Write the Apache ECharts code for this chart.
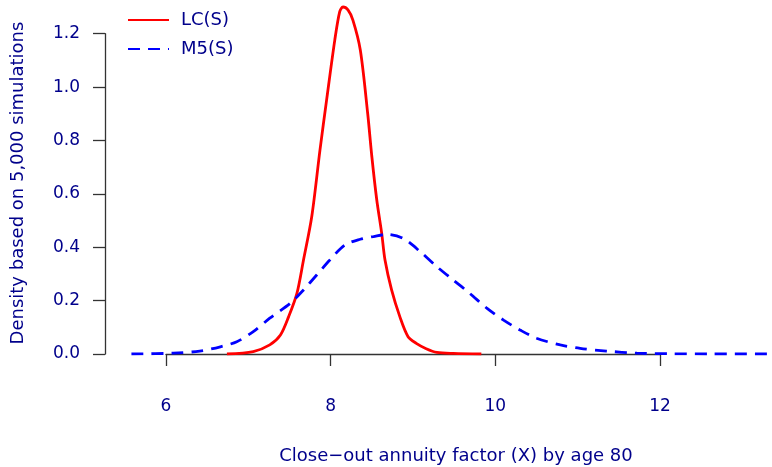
<!DOCTYPE html>
<html>
<head>
<meta charset="utf-8">
<script src="https://cdn.jsdelivr.net/npm/echarts@6/dist/echarts.min.js"></script>
<style>
  html, body { margin: 0; padding: 0; background: #fff; }
  #chart { width: 772px; height: 467px; }
</style>
</head>
<body>
<div id="chart"></div>
<script>
// density curves
const lcX = [6.74, 7.06, 7.26, 7.39, 7.49, 7.59, 7.67, 7.77, 7.87, 7.95, 8.05, 8.11, 8.15, 8.21, 8.27, 8.36, 8.45, 8.50, 8.56, 8.62, 8.66, 8.74, 8.84, 8.94, 9.04, 9.16, 9.29, 9.49, 9.83];
const lcY = [0, 0.009, 0.034, 0.071, 0.14, 0.227, 0.352, 0.514, 0.764, 0.95, 1.176, 1.283, 1.30, 1.289, 1.251, 1.139, 0.90, 0.74, 0.577, 0.452, 0.352, 0.24, 0.14, 0.065, 0.04, 0.02, 0.006, 0.002, 0];

const m5X = [5.58, 6.09, 6.41, 6.66, 6.86, 7.06, 7.26, 7.51, 7.67, 7.83, 7.99, 8.17, 8.36, 8.52, 8.68, 8.88, 9.09, 9.29, 9.49, 9.69, 9.90, 10.10, 10.30, 10.50, 10.79, 11.03, 11.35, 11.72, 12.12, 12.6, 13.36];
const m5Y = [0, 0.003, 0.011, 0.027, 0.046, 0.084, 0.134, 0.19, 0.24, 0.296, 0.352, 0.408, 0.43, 0.44, 0.448, 0.433, 0.383, 0.327, 0.277, 0.227, 0.171, 0.127, 0.09, 0.059, 0.034, 0.021, 0.011, 0.003, 0.001, 0, 0];

const xTicks = [6, 8, 10, 12];
const yTicks = [0, 0.2, 0.4, 0.6, 0.8, 1.0, 1.2];

const seriesNames = ["LC(S)", "M5(S)"];
const xTitle = "Close\u2212out annuity factor (X) by age 80";
const yTitle = "Density based on 5,000 simulations";

const txt = "#00008B";
const font = "DejaVu Sans";

const pairs = (xs, ys) => xs.map((x, i) => [x, ys[i]]);

// px per unit on each axis, so the data grid lines up with the R-style axes grid
const pxX = 494 / 6;
const pxY = 320.3 / 1.2;
const dataMinX = 5.5, dataMaxX = 13.36, dataMaxY = 1.32;

const chart = echarts.init(document.getElementById("chart"));
chart.setOption({
  backgroundColor: "#fff",
  animation: false,
  textStyle: { fontFamily: font },
  grid: [
    // data area, wider than the drawn axes
    { left: 166 - (6 - dataMinX) * pxX, width: (dataMaxX - dataMinX) * pxX, top: 354 - dataMaxY * pxY, bottom: 113 },
    // axes area: 6..12 and 0..1.2 only
    { left: 166, width: 494, top: 33.7, bottom: 113 }
  ],
  legend: {
    orient: "vertical",
    left: 122,
    top: 6,
    itemWidth: 41,
    itemHeight: 14,
    itemGap: 11,
    data: seriesNames,
    itemStyle: { opacity: 0 },
    textStyle: { color: txt, fontSize: 18, fontFamily: font, padding: [0, 0, 0, 7] }
  },
  xAxis: [
    { type: "value", gridIndex: 0, min: dataMinX, max: dataMaxX, show: false },
    {
      type: "value",
      gridIndex: 1,
      min: xTicks[0],
      max: xTicks[xTicks.length - 1],
      interval: 2,
      offset: 14,
      splitLine: { show: false },
      axisLine: { lineStyle: { color: "#333", width: 1.3 } },
      axisTick: { length: 12, lineStyle: { color: "#333", width: 1.3 } },
      axisLabel: { color: txt, fontSize: 17, margin: 30, fontFamily: font }
    }
  ],
  yAxis: [
    { type: "value", gridIndex: 0, min: 0, max: dataMaxY, show: false },
    {
      type: "value",
      gridIndex: 1,
      min: yTicks[0],
      max: yTicks[yTicks.length - 1],
      interval: 0.2,
      offset: 61,
      splitLine: { show: false },
      axisLine: { show: true, lineStyle: { color: "#333", width: 1.3 } },
      axisTick: { show: true, length: 12, lineStyle: { color: "#333", width: 1.3 } },
      axisLabel: { color: txt, fontSize: 17, margin: 25, fontFamily: font, formatter: v => v.toFixed(1) }
    }
  ],
  graphic: [
    {
      type: "text", x: 456, y: 456,
      style: { text: xTitle, fill: txt, font: "18px '" + font + "'", align: "center", verticalAlign: "middle" }
    },
    {
      type: "text", x: 18.5, y: 183, rotation: Math.PI / 2,
      style: { text: yTitle, fill: txt, font: "18px '" + font + "'", align: "center", verticalAlign: "middle" }
    }
  ],
  series: [
    {
      name: seriesNames[0],
      type: "line",
      xAxisIndex: 0,
      yAxisIndex: 0,
      data: pairs(lcX, lcY),
      smooth: 0.3,
      symbol: "none",
      showSymbol: false,
      lineStyle: { color: "#FF0000", width: 2.8 },
      itemStyle: { color: "#FF0000" }
    },
    {
      name: seriesNames[1],
      type: "line",
      xAxisIndex: 0,
      yAxisIndex: 0,
      data: pairs(m5X, m5Y),
      smooth: 0.3,
      symbol: "none",
      showSymbol: false,
      lineStyle: { color: "#0000FF", width: 2.8, type: [12, 8] },
      itemStyle: { color: "#0000FF" }
    }
  ]
});
</script>
</body>
</html>
